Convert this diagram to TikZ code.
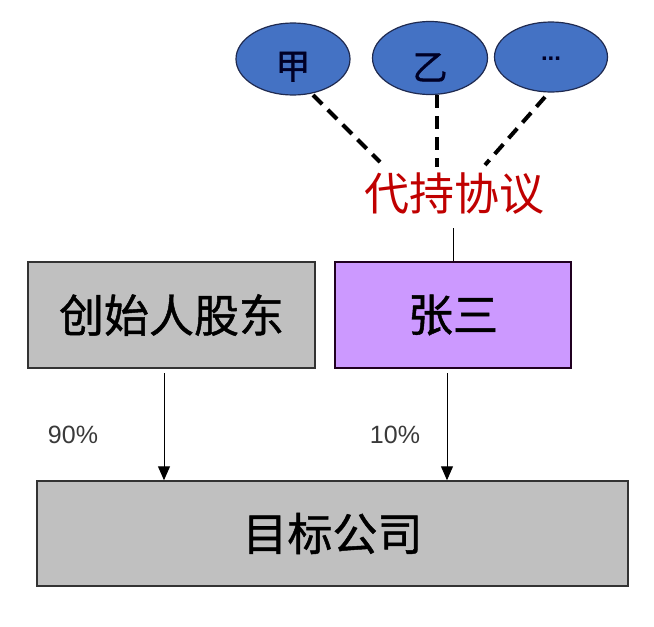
\documentclass[tikz,border=0pt]{standalone}
\usepackage{fontspec}
\newfontfamily\cjk{Noto Sans CJK SC}
\newfontfamily\cjkb[FakeBold=1]{Noto Sans CJK SC}
\setmainfont{Liberation Sans}
\usetikzlibrary{shapes.geometric,arrows.meta}
\definecolor{boxgray}{HTML}{C0C0C0}
\definecolor{zsviolet}{HTML}{CC99FF}
\definecolor{elblue}{HTML}{4472C4}
\definecolor{elborder}{HTML}{1F2A50}
\definecolor{agred}{HTML}{C00000}
\definecolor{pctgray}{HTML}{3A3A3A}
\tikzset{
  person/.style={ellipse, draw=elborder, line width=1.2pt, fill=elblue, inner sep=0pt, font=\cjkb\fontsize{35}{35}\selectfont, text=black!85!blue},
  boxnode/.style={rectangle, draw=black!80, line width=1.5pt, inner sep=0pt, font=\cjkb\fontsize{45}{45}\selectfont},
  dashlink/.style={line width=4pt, dash pattern=on 13pt off 8pt},
  solidlink/.style={line width=1pt, black},
  share/.style={solidlink, -{Triangle[length=14pt,width=12pt]}},
  pct/.style={font=\fontsize{25}{25}\selectfont, text=pctgray, inner sep=0pt}
}
\begin{document}
\begin{tikzpicture}[x=1pt,y=-1pt]
\useasboundingbox (0,0) rectangle (654,627);
\fill[white] (0,0) rectangle (654,627);
% people
\node[person, minimum width=114pt, minimum height=72pt] (jia) at (293,59) {\raisebox{-20pt}[0pt][0pt]{甲}};
\node[person, minimum width=115pt, minimum height=73pt] (yi) at (430,58) {\raisebox{-22pt}[0pt][0pt]{乙}};
\node[person, minimum width=113pt, minimum height=70pt, font=\bfseries\fontsize{24}{24}\selectfont] (etc) at (551,57) {\raisebox{-3pt}[0pt][0pt]{...}};
% agreement
\node[font=\cjk\fontsize{45}{45}\selectfont, text=agred, inner sep=0pt] (ag) at (454,194) {代持协议};
\coordinate (jiaEnd) at (380,162);
\coordinate (yiEnd) at (437,167);
\coordinate (etcEnd) at (485,165);
\coordinate (jiaStart) at (313,95);
\coordinate (yiStart) at (437,95);
\coordinate (etcStart) at (545,97);
\draw[dashlink] (jiaStart) -- (jiaEnd);
\draw[dashlink] (yiStart) -- (yiEnd);
\draw[dashlink] (etcStart) -- (etcEnd);
% boxes
\node[boxnode, fill=boxgray, minimum width=287pt, minimum height=106pt] (founder) at (171.5,315) {创始人股东};
\node[boxnode, fill=zsviolet, draw=black!75!violet, minimum width=236pt, minimum height=106pt] (zs) at (453,315) {张三};
\node[boxnode, fill=boxgray, minimum width=591pt, minimum height=105pt] (target) at (332.5,533.5) {目标公司};
\coordinate (agLow) at (453,228);
\draw[solidlink] (agLow) -- (zs.north -| agLow);
% shareholdings
\coordinate (f1) at (164,373);
\coordinate (z1) at (447,373);
\draw[share] (f1) -- (f1 |- target.north);
\draw[share] (z1) -- (z1 |- target.north);
\node[pct] (p90) at (73,435) {90\%};
\node[pct] (p10) at (395,435) {10\%};
\end{tikzpicture}
\end{document}
